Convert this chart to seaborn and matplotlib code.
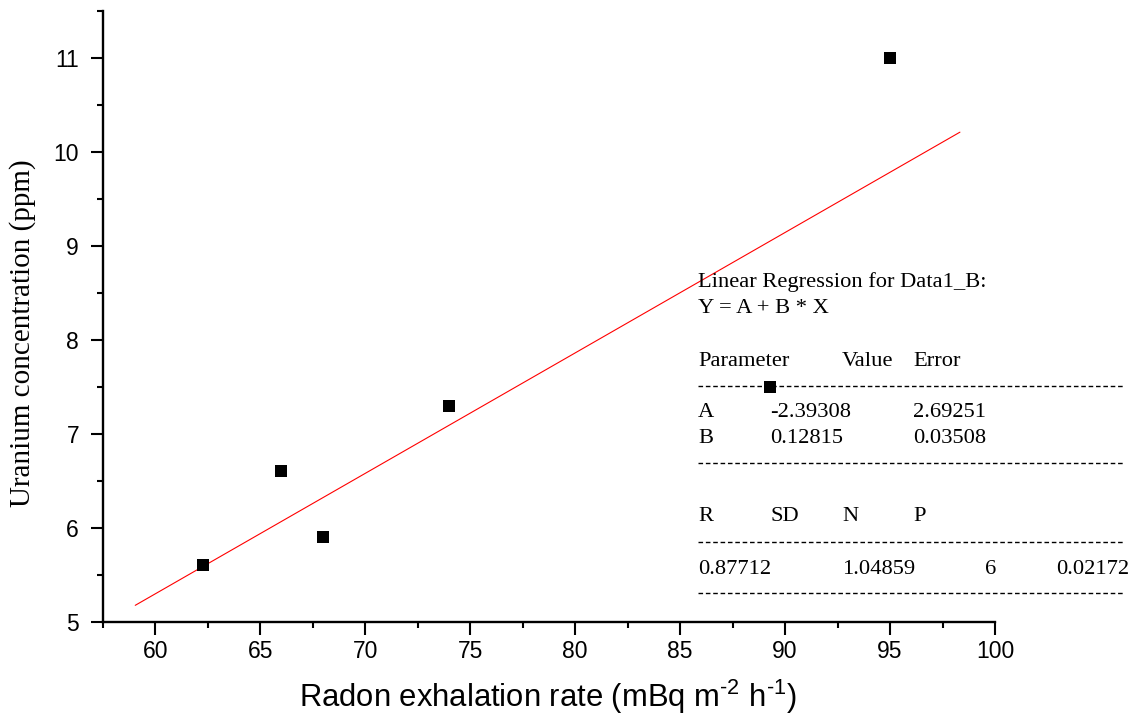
import numpy as np
import pandas as pd
import matplotlib
matplotlib.use("Agg")
import matplotlib.pyplot as plt
from matplotlib.ticker import MultipleLocator
from matplotlib.lines import Line2D
import seaborn as sns

# data
radon_rate = [62.3, 66.0, 68.0, 74.0, 89.3, 95.0]
uranium_ppm = [5.6, 6.6, 5.9, 7.3, 7.5, 11.0]

# regression results shown in the Origin box
param_a = -2.39308
param_b = 0.12815
fit_x = [59.05, 98.33]

W, H = 1137, 717

sns.set_style("ticks")
plt.rcParams['font.family'] = ['Liberation Sans', 'DejaVu Sans']
plt.rcParams['text.color'] = 'black'
plt.rcParams['xtick.color'] = 'black'
plt.rcParams['ytick.color'] = 'black'
plt.rcParams['mathtext.fontset'] = 'custom'
plt.rcParams['mathtext.rm'] = 'Liberation Sans'

df = pd.DataFrame({'x': radon_rate, 'y': uranium_ppm})
fit_df = pd.DataFrame({'x': fit_x, 'y': [param_a + param_b * v for v in fit_x]})

fig = plt.figure(figsize=(W / 100, H / 100), dpi=100)
ax = fig.add_axes([102.7 / W, 1 - 621.7 / H, (995 - 102.7) / W, (621.7 - 10.7) / H])

sns.lineplot(data=fit_df, x='x', y='y', ax=ax, color='red', linewidth=0.8)
sns.scatterplot(data=df, x='x', y='y', ax=ax, marker='s', s=78, color='black',
                linewidth=0, zorder=3)

ax.set_xlim(57.5, 100)
ax.set_ylim(5, 11.5)
ax.xaxis.set_major_locator(MultipleLocator(5))
ax.xaxis.set_minor_locator(MultipleLocator(2.5))
ax.yaxis.set_major_locator(MultipleLocator(1))
ax.yaxis.set_minor_locator(MultipleLocator(0.5))

for side in ['top', 'right']:
    ax.spines[side].set_visible(False)
for side in ['left', 'bottom']:
    ax.spines[side].set_linewidth(1.7)
    ax.spines[side].set_color('black')

ax.tick_params(which='major', length=9, width=1.5, labelsize=16.5, labelcolor='black')
ax.tick_params(which='minor', length=4.5, width=1.5)
ax.tick_params(axis='x', pad=4)
ax.tick_params(axis='y', pad=8)

ax.set_xlabel('')
ax.set_ylabel('')
fig.text(548 / W, 1 - 707 / H,
         r'Radon exhalation rate (mBq m$^{\text{-2}}$ h$^{\text{-1}}$)',
         ha='center', va='baseline', fontsize=22.3)
fig.text(22.5 / W, 1 - 333 / H, 'Uranium concentration (ppm)', rotation=90,
         ha='center', va='center', fontsize=21, family='Liberation Serif')

# regression report box
serif = dict(family='Liberation Serif', fontsize=16.2, va='baseline', ha='left')
rows = [
    (698, 287.3, 'Linear Regression for Data1_B:'),
    (698, 313.3, 'Y = A + B * X'),
    (698, 365.7, 'Parameter'), (842, 365.7, 'Value'), (913, 365.7, 'Error'),
    (698, 416.7, 'A'), (770, 416.7, '-2.39308'), (913, 416.7, '2.69251'),
    (698, 442.7, 'B'), (770, 442.7, '0.12815'), (913, 442.7, '0.03508'),
    (698, 521, 'R'), (770, 521, 'SD'), (842, 521, 'N'), (913, 521, 'P'),
    (698, 574, '0.87712'), (842, 574, '1.04859'), (985.5, 574, '6'), (1056.5, 574, '0.02172'),
]
for px, py, s in rows:
    fig.text(px / W, 1 - py / H, s, **serif)

for py in [386, 462.7, 541.7, 593.3]:
    fig.add_artist(Line2D([698 / W, 1123 / W], [1 - py / H, 1 - py / H],
                          transform=fig.transFigure, color='black', linewidth=1.0,
                          dashes=(3.3, 2.0)))

fig.savefig('out.png', dpi=100)
